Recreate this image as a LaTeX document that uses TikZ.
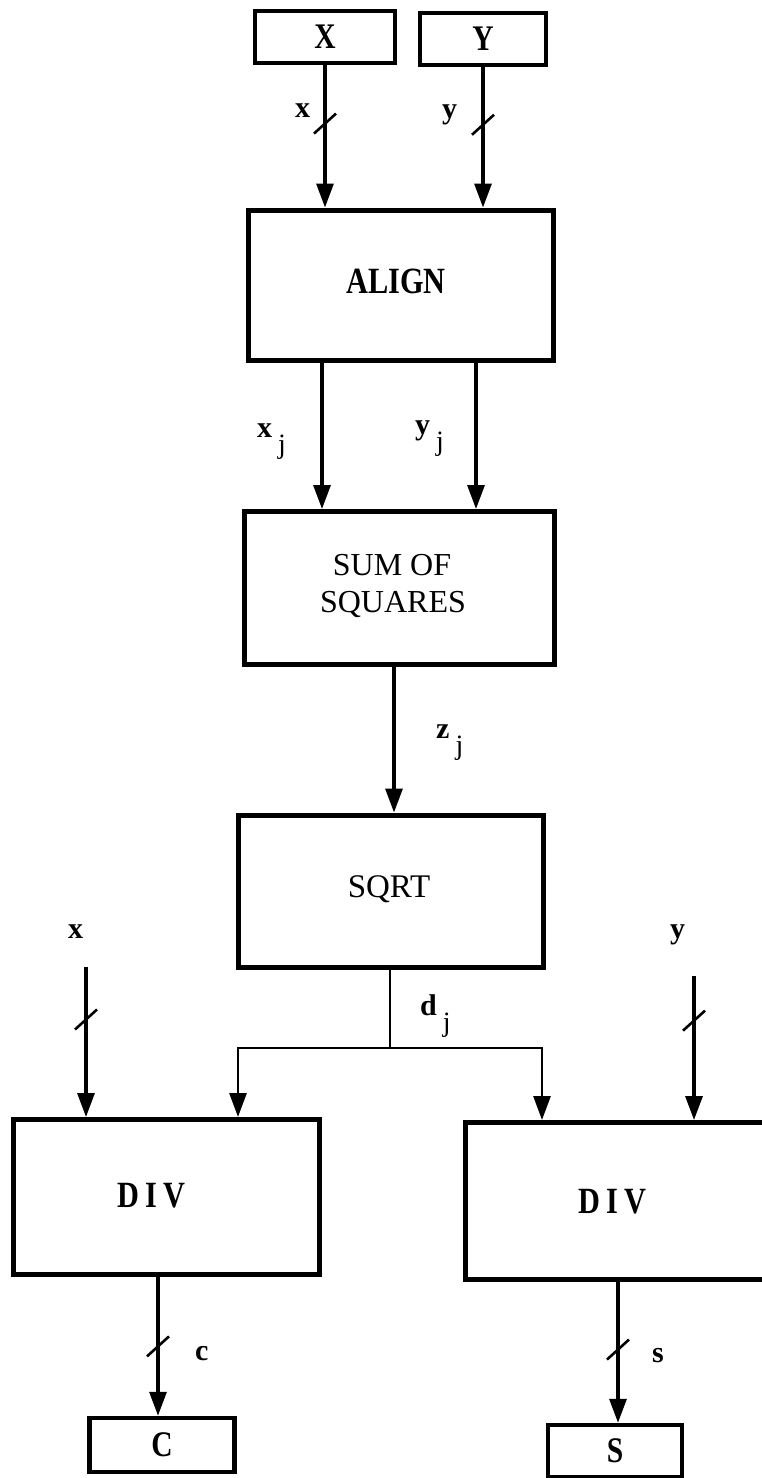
\documentclass[tikz,border=0pt]{standalone}
\usepackage{fontspec}
\setmainfont{Liberation Serif}
\newfontfamily\narrowserif[FakeStretch=0.82]{Liberation Serif}
\usetikzlibrary{arrows.meta,calc}

\tikzset{
  block/.style={draw, line width=5pt, rectangle, inner sep=0pt},
  caption/.style={inner sep=0pt, align=center},
  heavy/.style={font=\narrowserif\bfseries\fontsize{37}{37}\selectfont},
  plain/.style={font=\fontsize{32}{37}\selectfont},
  io/.style={draw, line width=4.5pt, rectangle, inner sep=0pt, minimum height=52pt,
             font=\narrowserif\bfseries\fontsize{36}{36}\selectfont},
  flow/.style={line width=3.2pt, -{Triangle[width=17pt,length=24pt]}},
  wire/.style={line width=2.8pt},
  sig/.style={font=\bfseries\fontsize{30}{30}\selectfont, inner sep=0pt, anchor=base west},
  slash/.pic={\draw[line width=2.6pt] (-11,10) -- (11,-10);},
}
\newcommand{\subj}[1]{#1\hspace{6pt}\raisebox{-16pt}{\mdseries\fontsize{28}{28}\selectfont j}}

\begin{document}
\begin{tikzpicture}[x=1pt,y=-1pt]
  \clip (0,0) rectangle (762,1478);
  \fill[white] (0,0) rectangle (762,1478);

  % sources and sinks
  \node[io, minimum width=140pt] (X) at (325,37) {X};
  \node[io, minimum width=126pt] (Y) at (483,39) {Y};
  \node[io, minimum width=145pt, minimum height=54pt] (C) at (162,1445) {C};
  \node[io, minimum width=134pt] (S) at (615,1451) {S};

  % processing blocks
  \node[block, minimum width=305pt, minimum height=150pt] (align) at (401,285) {};
  \node[block, minimum width=310pt, minimum height=153pt] (sos) at (399,588) {};
  \node[block, minimum width=305pt, minimum height=152pt] (sqrt) at (391,891) {};
  \node[block, minimum width=306pt, minimum height=155pt] (divc) at (166,1197) {};
  \node[block, minimum width=310pt, minimum height=157pt] (divs) at (620,1201) {};

  % block captions
  \node[caption, heavy] (aligntxt) at (396,281) {ALIGN};
  \node[caption, plain, anchor=base] (sostxt1) at (392,575) {SUM OF};
  \node[caption, plain, anchor=base] (sostxt2) at (393,612) {SQUARES};
  \node[caption, font=\fontsize{33}{37}\selectfont, anchor=base] (sqrttxt) at (389,897) {SQRT};
  \node[caption, heavy, anchor=base] (divctxt) at (151,1207) {D\,I\,V};
  \node[caption, heavy, anchor=base] (divstxt) at (612,1213) {D\,I\,V};

  % signal columns
  \coordinate (colxj) at (322,0);
  \coordinate (colyj) at (476,0);
  \coordinate (colzj) at (394,0);
  \coordinate (fork) at (390,1048);
  \coordinate (colL) at (238,0);
  \coordinate (colR) at (542,0);
  \coordinate (xin) at (86,967);
  \coordinate (yin) at (694,976);
  \coordinate (colc) at (158,0);
  \coordinate (cols) at (618,0);

  % connectors
  \draw[flow] (X.south) -- (X.south |- align.north);
  \draw[flow] (Y.south) -- (Y.south |- align.north);
  \draw[flow] (align.south -| colxj) -- (sos.north -| colxj);
  \draw[flow] (align.south -| colyj) -- (sos.north -| colyj);
  \draw[flow] (sos.south -| colzj) -- (sqrt.north -| colzj);
  \draw[wire] (sqrt.south -| fork) -- (fork);
  \draw[flow, line width=2.8pt] (fork) -| (colL |- divc.north);
  \draw[flow, line width=2.8pt] (fork) -| (colR |- divs.north);
  \draw[flow] (xin) -- (xin |- divc.north);
  \draw[flow] (yin) -- (yin |- divs.north);
  \draw[flow] (divc.south -| colc) -- (C.north -| colc);
  \draw[flow] (divs.south -| cols) -- (S.north -| cols);

  % bus width marks
  \pic at ($(X.south)!0.41!(X.south |- align.north)$) {slash};
  \pic at ($(Y.south)!0.41!(Y.south |- align.north)$) {slash};
  \pic at ($(xin)!0.35!(xin |- divc.north)$) {slash};
  \pic at ($(yin)!0.31!(yin |- divs.north)$) {slash};
  \pic at ($(divc.south -| colc)!0.5!(C.north -| colc)$) {slash};
  \pic at ($(divs.south -| cols)!0.48!(S.north -| cols)$) {slash};

  % signal labels
  \node[sig] (lx) at (295,117) {x};
  \node[sig] (ly) at (442,118) {y};
  \node[sig] (lxj) at (257,437) {\subj{x}};
  \node[sig] (lyj) at (415,434) {\subj{y}};
  \node[sig] (lzj) at (436,738) {\subj{z}};
  \node[sig] (ldj) at (420,1015) {\subj{d}};
  \node[sig] (lx2) at (68,938) {x};
  \node[sig] (ly2) at (670,938) {y};
  \node[sig] (lc) at (195,1360) {c};
  \node[sig] (ls) at (652,1362) {s};
\end{tikzpicture}
\end{document}
